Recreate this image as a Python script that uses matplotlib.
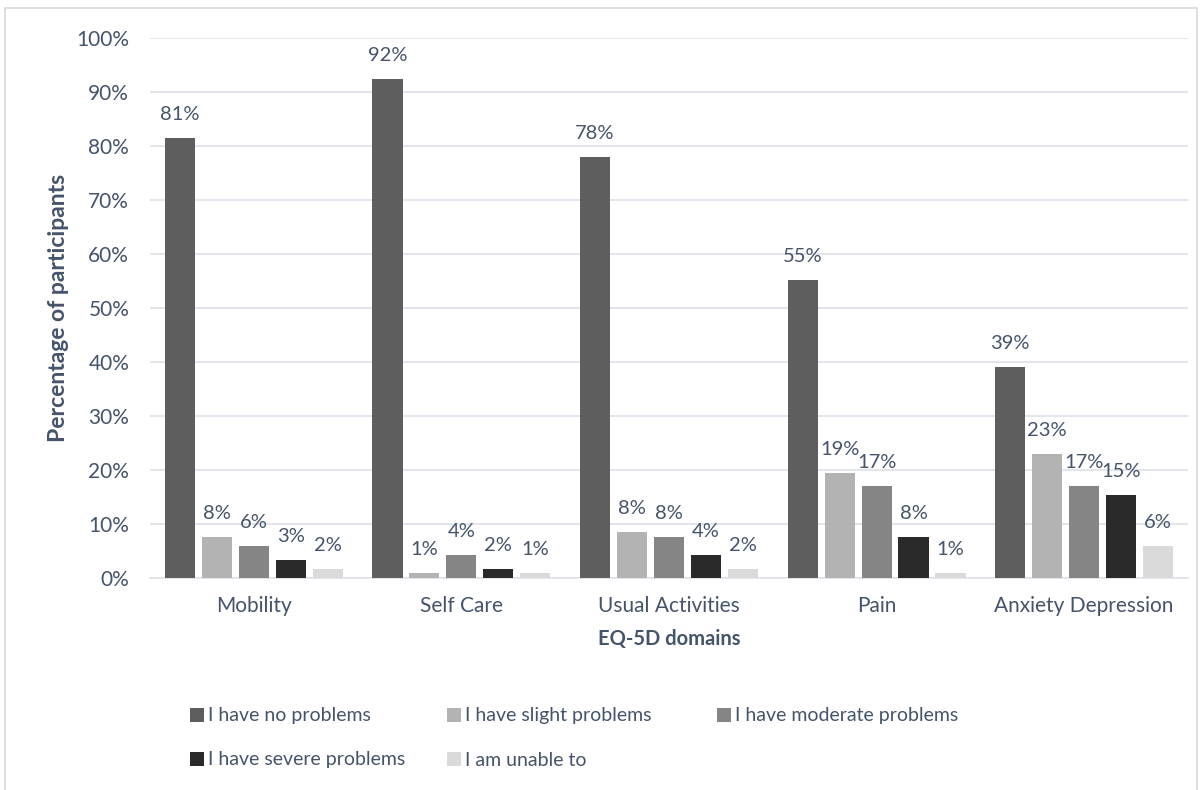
import matplotlib
matplotlib.use("Agg")
import matplotlib.pyplot as plt
from matplotlib.patches import Rectangle, Patch
import numpy as np

categories = ["Mobility", "Self Care", "Usual Activities", "Pain", "Anxiety Depression"]
series_names = ["I have no problems", "I have slight problems", "I have moderate problems",
                "I have severe problems", "I am unable to"]
no_problems = [81.5, 92.4, 78.0, 55.2, 39.0]
slight = [7.6, 0.9, 8.5, 19.4, 23.0]
moderate = [5.9, 4.3, 7.6, 17.0, 17.0]
severe = [3.3, 1.7, 4.3, 7.6, 15.4]
unable = [1.7, 0.9, 1.7, 1.0, 6.0]
labels = [
    ["81%", "92%", "78%", "55%", "39%"],
    ["8%", "1%", "8%", "19%", "23%"],
    ["6%", "4%", "8%", "17%", "17%"],
    ["3%", "2%", "4%", "8%", "15%"],
    ["2%", "1%", "2%", "1%", "6%"],
]
yticks = [0, 10, 20, 30, 40, 50, 60, 70, 80, 90, 100]
ytick_labels = ["0%", "10%", "20%", "30%", "40%", "50%", "60%", "70%", "80%", "90%", "100%"]

colors = ["#5e5e5e", "#b3b3b3", "#858585", "#2a2a2a", "#dadada"]
txt = "#44546a"
grid = "#dfe3ea"

plt.rcParams["font.family"] = ["Lato", "DejaVu Sans"]

fig = plt.figure(figsize=(12.03, 7.90), dpi=100)
ax = fig.add_axes([0.1247, 0.2684, 0.8628, 0.6835])

x = np.arange(len(categories))
pitch = 0.178
width = 0.145
data = [no_problems, slight, moderate, severe, unable]
for i, (vals, c, name) in enumerate(zip(data, colors, series_names)):
    pos = x + (i - 2) * pitch
    ax.bar(pos, vals, width=width, color=c, label=name, zorder=3)
    for p, v, lab in zip(pos, vals, labels[i]):
        ax.annotate(lab, (p, v), xytext=(0, 13), textcoords="offset points",
                    ha="center", va="baseline", fontsize=14.5, color=txt)

ax.set_xlim(-0.5, len(categories) - 0.5)
ax.set_ylim(0, 100)
ax.set_yticks(yticks)
ax.set_yticklabels(ytick_labels)
ax.set_xticks(x)
ax.set_xticklabels(categories)
ax.tick_params(axis="both", length=0, labelsize=15, colors=txt)
ax.tick_params(axis="y", pad=15)
ax.tick_params(axis="x", pad=13)
ax.yaxis.grid(True, color=grid, linewidth=1.3, zorder=0)
for s in ["top", "right", "left"]:
    ax.spines[s].set_visible(False)
ax.spines["bottom"].set_color(grid)
ax.spines["bottom"].set_linewidth(1.3)
ax.set_ylabel("Percentage of participants", fontsize=16.5, fontweight="bold", color=txt, labelpad=5)
ax.set_xlabel("EQ-5D domains", fontsize=14.5, fontweight="bold", color=txt, labelpad=9)

# legend entries placed like the original (row-major, 3 per row)
leg_pos = [(190, 716), (447, 716), (717, 716), (190, 760), (447, 760)]
W, H = 1203.0, 790.0
for (px, py), c, name in zip(leg_pos, colors, series_names):
    fig.legend([Patch(facecolor=c)], [name], loc="center left",
               bbox_to_anchor=(px / W, 1 - py / H), frameon=False, fontsize=14,
               labelcolor=txt, handlelength=0.7, handleheight=0.7,
               handletextpad=0.25, borderpad=0, borderaxespad=0)

fig.patches.append(Rectangle((0.004, -0.01), 0.991, 0.9995, transform=fig.transFigure,
                             fill=False, edgecolor="#d9d9d9", linewidth=1.2))

fig.savefig("out.png", dpi=100)
